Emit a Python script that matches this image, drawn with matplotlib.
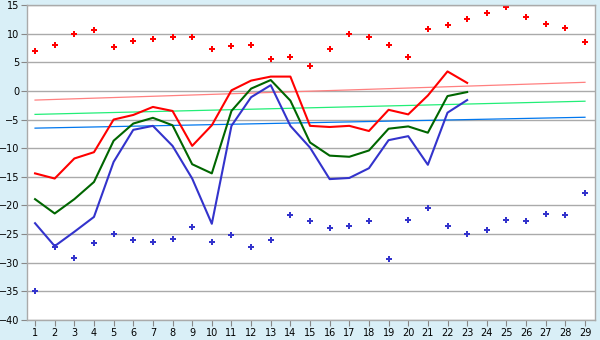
import matplotlib
matplotlib.use("Agg")
import matplotlib.pyplot as plt
import numpy as np

days = list(range(1, 30))
obs_days = list(range(1, 24))

t_max = [-14.4, -15.3, -11.8, -10.7, -5.0, -4.2, -2.8, -3.5, -9.6, -6.0,
         0.1, 1.8, 2.5, 2.5, -6.1, -6.3, -6.1, -7.0, -3.3, -4.1,
         -0.8, 3.4, 1.4]
t_mean = [-18.9, -21.4, -18.9, -15.9, -8.7, -5.7, -4.7, -6.0, -12.8, -14.4,
          -3.5, 0.4, 1.9, -1.7, -9.0, -11.3, -11.5, -10.4, -6.6, -6.2,
          -7.3, -0.9, -0.2]
t_min = [-23.1, -27.1, -24.6, -22.0, -12.4, -6.8, -6.1, -9.6, -15.3, -23.2,
         -6.1, -1.1, 1.0, -6.1, -9.9, -15.4, -15.2, -13.5, -8.6, -7.9,
         -12.9, -3.8, -1.6]

rec_max = [6.9, 8.0, 10.0, 10.6, 7.6, 8.7, 9.0, 9.35, 9.35, 7.3,
           7.8, 8.1, 5.5, 6.0, 4.3, 7.4, 9.9, 9.5, 8.1, 6.0,
           10.8, 11.5, 12.5, 13.6, 14.6, 12.9, 11.6, 10.9, 8.5]
rec_min = [-35.0, -27.2, -29.2, -26.6, -25.0, -26.1, -26.4, -25.9, -23.8, -26.3,
           -25.2, -27.3, -26.1, -21.7, -22.8, -24.0, -23.6, -22.8, -29.4, -22.6,
           -20.5, -23.6, -24.9, -24.2, -22.6, -22.8, -21.5, -21.7, -17.9]

# climatological trend lines: value at first and last day
trend_max = [-1.6, 1.5]
trend_mean = [-4.1, -1.8]
trend_min = [-6.5, -4.6]
trend_days = [days[0], days[-1]]

yticks = list(range(-40, 16, 5))

bg = "#d9eff7"
fig = plt.figure(figsize=(6, 3.4), dpi=100, facecolor=bg)
ax = fig.add_axes([27 / 600, 1 - 320 / 340, 568 / 600, 315 / 340])
ax.set_facecolor("white")

ax.set_xlim(0.59, 29.51)
ax.set_ylim(-40, 15)

ax.set_yticks(yticks)
ax.set_xticks(days)
ax.yaxis.grid(True, color="#aaaaaa", lw=1.0)
ax.set_axisbelow(True)

for s in ax.spines.values():
    s.set_color("#aaaaaa")
    s.set_linewidth(1.0)

ax.tick_params(axis="both", labelcolor="#000000", labelsize=7, length=4,
               width=0.8, color="#888888")
ax.tick_params(axis="y", pad=1.5)
ax.tick_params(axis="x", pad=2)

ax.plot(trend_days, trend_max, color="#ff8080", lw=0.9)
ax.plot(trend_days, trend_mean, color="#22ee77", lw=0.9)
ax.plot(trend_days, trend_min, color="#0077ee", lw=0.9)

ax.plot(obs_days, t_max, color="#ff0000", lw=1.5)
ax.plot(obs_days, t_mean, color="#006600", lw=1.5)
ax.plot(obs_days, t_min, color="#3333cc", lw=1.5)

ax.plot(days, rec_max, ls="none", marker="P", ms=5, color="#ff0000",
        mec="#ff0000", mew=0)
ax.plot(days, rec_min, ls="none", marker="P", ms=5, color="#3333cc",
        mec="#3333cc", mew=0)

fig.savefig("out.png", dpi=100, facecolor=bg)
